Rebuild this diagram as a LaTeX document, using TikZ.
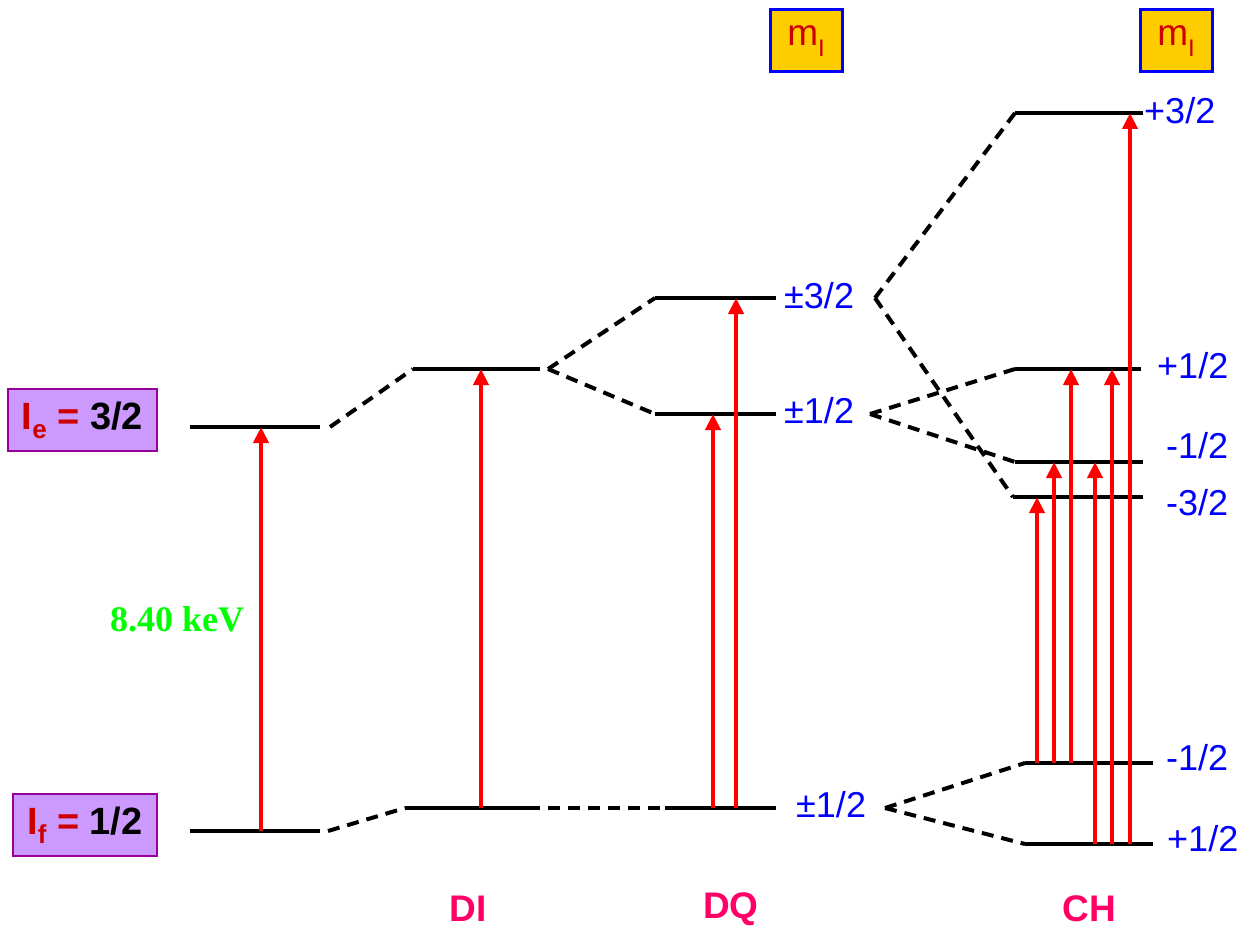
\documentclass[tikz,border=0pt]{standalone}
\usepackage{fontspec}
\setmainfont{Liberation Sans}
\newfontfamily\kevfont{Liberation Serif}
\usetikzlibrary{arrows.meta}

\definecolor{lvlblue}{HTML}{0000FF}
\definecolor{tagpink}{HTML}{FF0066}
\definecolor{boxred}{HTML}{CC0000}
\definecolor{spinfill}{HTML}{CC99FF}
\definecolor{spinedge}{HTML}{990099}
\definecolor{mfill}{HTML}{FFCC00}
\definecolor{kevgreen}{HTML}{00FF00}

\tikzset{
  level/.style={line width=3.5pt},
  split/.style={line width=4pt, dash pattern=on 12pt off 8pt},
  trans/.style={red, line width=4pt, -{Triangle[width=15pt,length=16pt]}},
  mlabel/.style={anchor=west, inner sep=0pt, text=lvlblue, font=\fontsize{36}{40}\selectfont},
  tag/.style={text=tagpink, inner sep=0pt, font=\bfseries\fontsize{37}{40}\selectfont},
  spinbox/.style={draw=spinedge, line width=2pt, fill=spinfill, minimum height=62pt,
    inner sep=0pt, font=\bfseries\fontsize{38}{40}\selectfont},
  mbox/.style={draw=lvlblue, line width=3pt, fill=mfill, minimum width=72pt,
    minimum height=62pt, inner sep=0pt, text=boxred, font=\fontsize{37}{40}\selectfont},
}

\begin{document}
\begin{tikzpicture}[x=1pt,y=-1pt]
\useasboundingbox (0,0) rectangle (1249,928);

% spin labels of the two nuclear states
\node[spinbox, minimum width=149pt] (ebox) at (82.5,420)
  {{\color{boxred}I\raisebox{-9pt}{\fontsize{26}{26}\selectfont e} = }3/2};
\node[spinbox, minimum width=144pt] (fbox) at (85,825)
  {{\color{boxred}I\raisebox{-9pt}{\fontsize{26}{26}\selectfont f} = }1/2};

% m_I headers
\node[mbox] (mq) at (806,41) {m\raisebox{-11pt}{\fontsize{24}{24}\selectfont I}};
\node[mbox] (mc) at (1176,41) {m\raisebox{-11pt}{\fontsize{24}{24}\selectfont I}};

% level end points
\coordinate (ie0) at (190,427);  \coordinate (ie1) at (320,427);
\coordinate (if0) at (190,831);  \coordinate (if1) at (320,831);
\coordinate (di0) at (413,369);  \coordinate (di1) at (540,369);
\coordinate (dg0) at (405,808);  \coordinate (dg1) at (540,808);
\coordinate (q3a) at (655,298);  \coordinate (q3b) at (776,298);
\coordinate (q1a) at (655,414);  \coordinate (q1b) at (776,414);
\coordinate (qg0) at (665,808);  \coordinate (qg1) at (776,808);
\coordinate (c3p0) at (1015,113); \coordinate (c3p1) at (1143,113);
\coordinate (c1p0) at (1015,369); \coordinate (c1p1) at (1141,369);
\coordinate (c1m0) at (1015,462); \coordinate (c1m1) at (1143,462);
\coordinate (c3m0) at (1013,497); \coordinate (c3m1) at (1143,497);
\coordinate (g1m0) at (1025,763); \coordinate (g1m1) at (1153,763);
\coordinate (g1p0) at (1025,844); \coordinate (g1p1) at (1153,844);

% starting points of the splitting connectors
\coordinate (s1) at (330,427);
\coordinate (s2) at (328,831);
\coordinate (s3) at (548,369);
\coordinate (s4) at (548,808);
\coordinate (s5) at (875,298);
\coordinate (s6) at (870,414);
\coordinate (s7) at (885,808);

% energy levels
\foreach \a/\b in {ie0/ie1, if0/if1, di0/di1, dg0/dg1, q3a/q3b, q1a/q1b, qg0/qg1,
                   c3p0/c3p1, c1p0/c1p1, c1m0/c1m1, c3m0/c3m1, g1m0/g1m1, g1p0/g1p1}
  \draw[level] (\a) -- (\b);

% splitting connectors
\foreach \a/\b in {s1/di0, s2/dg0, s3/q3a, s3/q1a, s4/qg0,
                   s5/c3p0, s5/c3m0, s6/c1p0, s6/c1m0, s7/g1m0, s7/g1p0}
  \draw[split] (\a) -- (\b);

% transitions
\foreach \x/\ylo/\yhi [count=\i] in {261/831/427, 481/808/369, 713/808/414, 736/808/298,
    1037/763/497, 1054/763/462, 1071/763/369, 1095/844/462, 1112/844/369, 1130/844/113} {
  \coordinate (tb\i) at (\x,\ylo);
  \coordinate (tt\i) at (\x,\yhi);
  \draw[trans] (tb\i) -- (tt\i);
}

% m_I values
\node[mlabel] (lq3) at (784,296) {±3/2};
\node[mlabel] (lq1) at (784,411) {±1/2};
\node[mlabel] (lqg) at (796,805) {±1/2};
\node[mlabel] (lc3p) at (1144,111) {+3/2};
\node[mlabel] (lc1p) at (1157,366) {+1/2};
\node[mlabel] (lc1m) at (1166,446) {-1/2};
\node[mlabel] (lc3m) at (1166,503) {-3/2};
\node[mlabel] (lg1m) at (1166,758) {-1/2};
\node[mlabel] (lg1p) at (1167,839) {+1/2};

% transition energy
\node[text=kevgreen, font=\kevfont\bfseries\fontsize{36}{40}\selectfont] (kev) at (177,619) {8.40 keV};

% interaction labels
\node[tag] (tdi) at (468,909) {DI};
\node[tag] (tdq) at (731,909) {DQ};
\node[tag] (tch) at (1089,909) {CH};
\end{tikzpicture}
\end{document}
